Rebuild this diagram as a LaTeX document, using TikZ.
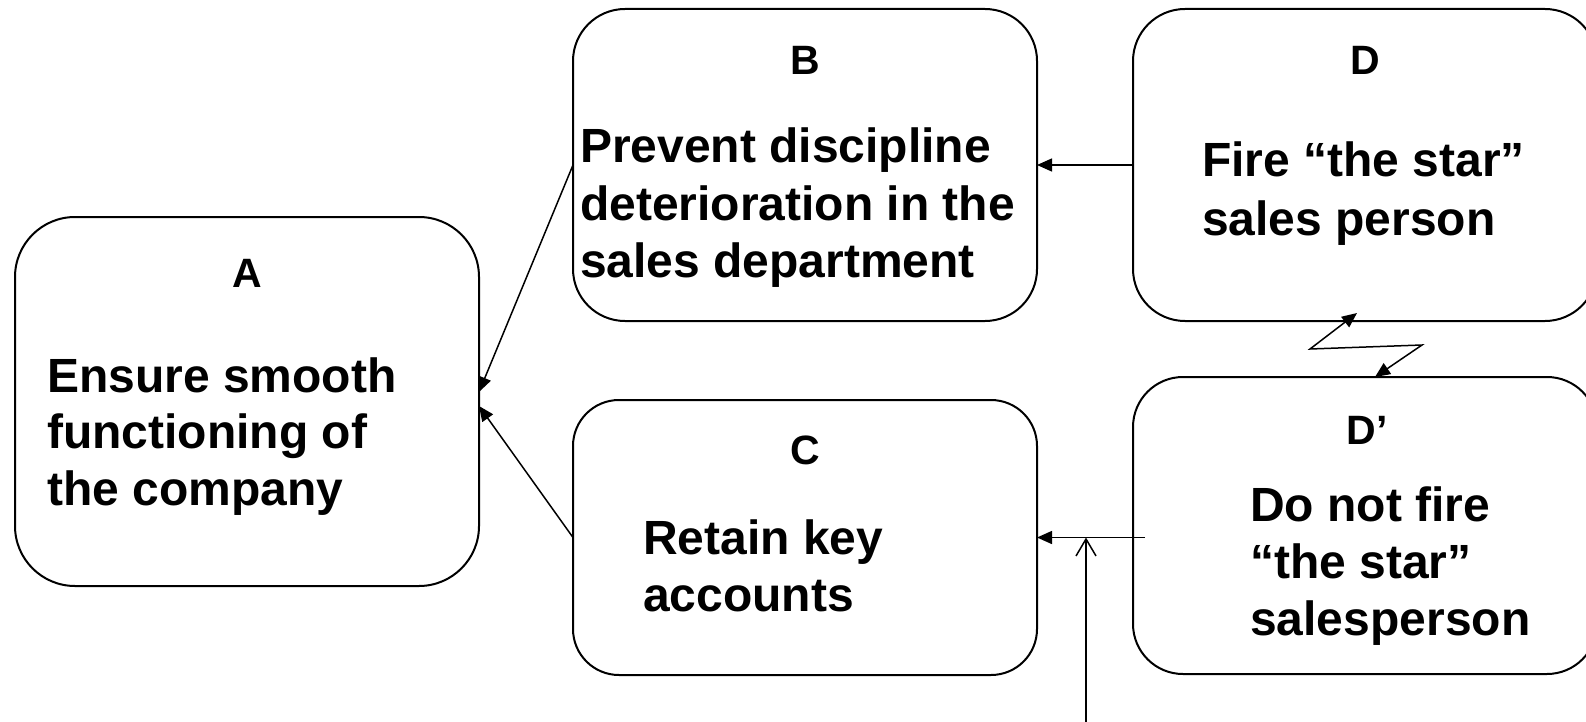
\documentclass[tikz,border=0pt]{standalone}
\usepackage{fontspec}
\setmainfont{Liberation Sans}
\usetikzlibrary{arrows.meta}
\begin{document}
\begin{tikzpicture}[x=1pt,y=-1pt,
  box/.style={draw, line width=2pt, rectangle, rounded corners=#1, minimum width=464pt, inner sep=0pt, outer sep=0pt},
  ttl/.style={font=\fontsize{41}{41}\selectfont\bfseries, anchor=base, inner sep=0pt},
  txt/.style={font=\fontsize{48}{57}\selectfont\bfseries, anchor=base west, inner sep=0pt},
  tip/.style={Triangle[length=15pt,width=13pt]},
  con/.style={line width=1.5pt, -{Triangle[length=15pt,width=13pt]}},
  barb/.style={line width=1.5pt, -{Straight Barb[length=17pt,width=20pt]}},
]
\useasboundingbox (0,0) rectangle (1586,722);
\clip (0,0) rectangle (1586,722);

% boxes
\node[box=60pt, minimum height=369pt] (A) at (247,401.5) {};
\node[box=52pt, minimum height=312pt] (B) at (805,165) {};
\node[box=46pt, minimum height=275pt] (C) at (805,537.5) {};
\node[box=52pt, minimum height=312pt] (D) at (1365,165) {};
\node[box=50pt, minimum height=297pt] (Dp) at (1365,525.5) {};

% titles
\node[ttl] (tA) at (247,287) {A};
\node[ttl] (tB) at (805,75) {B};
\node[ttl] (tC) at (805,464) {C};
\node[ttl] (tD) at (1365,75) {D};
\node[ttl] (tDp) at (1367,444) {D’};

% texts
\node[txt] (a1) at (47,392) {Ensure smooth};
\node[txt] (a2) at (47,448) {functioning of};
\node[txt] (a3) at (47,505) {the company};
\node[txt] (b1) at (580,163) {Prevent discipline};
\node[txt] (b2) at (580,220) {deterioration in the};
\node[txt] (b3) at (580,277) {sales department};
\node[txt] (c1) at (643,554) {Retain key};
\node[txt] (c2) at (643,611) {accounts};
\node[txt] (d1) at (1202,177) {Fire “the star”};
\node[txt] (d2) at (1202,235) {sales person};
\node[txt] (e1) at (1250,521) {Do not fire};
\node[txt] (e2) at (1250,578) {“the star”};
\node[txt] (e3) at (1250,635) {salesperson};

% connectors
\draw[con] (B.west) -- ([yshift=9.5pt]A.east);
\draw[con] (C.west) -- ([yshift=-4.5pt]A.east);
\draw[con] (D.west) -- (B.east);
\coordinate (dps) at (1145,537.5);
\draw[con] (dps) -- (C.east);
\coordinate (bot) at (1086,722);
\draw[barb] (bot) -- (bot |- C.east);

% conflict (lightning) connector
\coordinate (ltop) at (1357,313);
\coordinate (lz1) at (1310,349);
\coordinate (lz2) at (1422,345);
\coordinate (lbot) at (1375,377);
\draw[line width=1.5pt, {Triangle[length=15pt,width=13pt]}-{Triangle[length=15pt,width=13pt]}] (ltop) -- (lz1) -- (lz2) -- (lbot);
\end{tikzpicture}
\end{document}
